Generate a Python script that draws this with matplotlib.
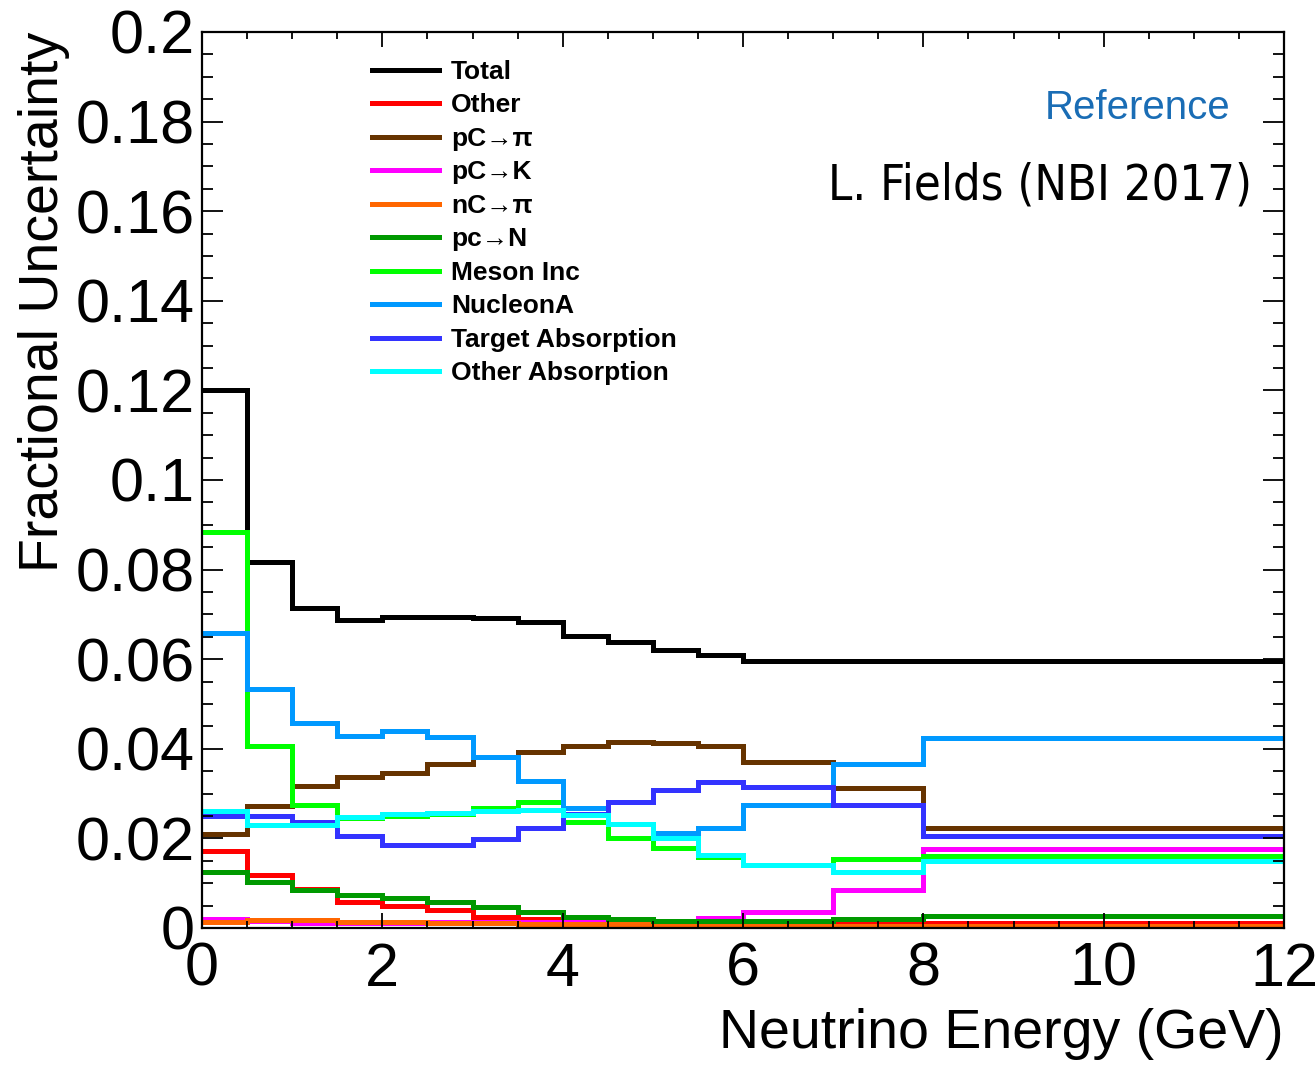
import matplotlib
matplotlib.use('Agg')
import matplotlib.pyplot as plt
from matplotlib.ticker import MultipleLocator, FuncFormatter
from matplotlib.lines import Line2D

plt.rcParams['font.family'] = ['Liberation Sans', 'DejaVu Sans']

# energy bin edges (GeV)
edges = [0, 0.5, 1, 1.5, 2, 2.5, 3, 3.5, 4, 4.5, 5, 5.5, 6, 7, 8, 12]

# fractional uncertainty per bin, one list per systematic
total = [0.1200, 0.0818, 0.0714, 0.0688, 0.0695, 0.0695, 0.0691, 0.0684,
         0.0652, 0.0639, 0.0621, 0.0609, 0.0597, 0.0597, 0.0597]
other = [0.0171, 0.0118, 0.0087, 0.0059, 0.0049, 0.0039, 0.0025, 0.0020,
         0.0014, 0.0012, 0.0011, 0.0010, 0.0009, 0.0012, 0.0011]
pc_pi = [0.0209, 0.0273, 0.0316, 0.0336, 0.0347, 0.0366, 0.0382, 0.0393,
         0.0407, 0.0414, 0.0412, 0.0406, 0.0371, 0.0312, 0.0222]
pc_k = [0.0020, 0.0016, 0.0011, 0.0011, 0.0012, 0.0013, 0.0014, 0.0014,
        0.0013, 0.0012, 0.0011, 0.0022, 0.0036, 0.0085, 0.0177]
nc_pi = [0.0014, 0.0018, 0.0018, 0.0014, 0.0014, 0.0010, 0.0010, 0.0008,
         0.0008, 0.0008, 0.0005, 0.0005, 0.0005, 0.0005, 0.0005]
pc_n = [0.0126, 0.0102, 0.0085, 0.0074, 0.0066, 0.0059, 0.0046, 0.0035,
        0.0025, 0.0019, 0.0016, 0.0016, 0.0016, 0.0021, 0.0027]
meson_inc = [0.0883, 0.0406, 0.0275, 0.0245, 0.0249, 0.0255, 0.0267, 0.0281,
             0.0236, 0.0200, 0.0178, 0.0159, 0.0141, 0.0153, 0.0161]
nucleon_a = [0.0658, 0.0533, 0.0458, 0.0429, 0.0440, 0.0427, 0.0382, 0.0327,
             0.0267, 0.0233, 0.0211, 0.0222, 0.0275, 0.0366, 0.0423]
target_abs = [0.0250, 0.0250, 0.0236, 0.0205, 0.0185, 0.0185, 0.0198, 0.0222,
              0.0254, 0.0282, 0.0308, 0.0326, 0.0315, 0.0275, 0.0205]
other_abs = [0.0260, 0.0230, 0.0230, 0.0248, 0.0254, 0.0256, 0.0262, 0.0263,
             0.0252, 0.0232, 0.0200, 0.0163, 0.0141, 0.0126, 0.0150]

labels = ['Total', 'Other', 'pC→π', 'pC→K', 'nC→π', 'pc→N',
          'Meson Inc', 'NucleonA', 'Target Absorption', 'Other Absorption']
series = [total, other, pc_pi, pc_k, nc_pi, pc_n,
          meson_inc, nucleon_a, target_abs, other_abs]
colors = ['#000000', '#ff0000', '#663300', '#ff00ff', '#ff6600', '#009900',
          '#00ff00', '#0099ff', '#3333ff', '#00ffff']

fig = plt.figure(figsize=(13.16, 10.66), dpi=100)
ax = fig.add_axes([0.1535, 0.1295, 0.8222, 0.8405])

for vals, c in zip(series, colors):
    ax.stairs(vals, edges, color=c, linewidth=3.6, baseline=None)

ax.set_xlim(0, 12)
ax.set_ylim(0, 0.2)

# ROOT style ticks: inside, on every side
ax.xaxis.set_major_locator(MultipleLocator(2))
ax.xaxis.set_minor_locator(MultipleLocator(0.5))
ax.yaxis.set_major_locator(MultipleLocator(0.02))
ax.yaxis.set_minor_locator(MultipleLocator(0.005))
ax.yaxis.set_major_formatter(FuncFormatter(lambda v, p: f'{v:g}'))
ax.tick_params(which='both', direction='in', top=True, right=True,
               labelsize=44, width=1.3)
ax.tick_params(axis='y', which='major', length=15, pad=5)
ax.tick_params(axis='y', which='minor', length=8)
ax.tick_params(axis='x', which='major', length=11, pad=10)
ax.tick_params(axis='x', which='minor', length=5)
for s in ax.spines.values():
    s.set_linewidth(1.6)

ax.set_xlabel('Neutrino Energy (GeV)', fontsize=40, loc='right')
ax.xaxis.set_label_coords(1.0, -0.089)
ax.set_ylabel('Fractional Uncertainty', fontsize=40, loc='top')
ax.yaxis.set_label_coords(-0.122, 1.0)

handles = [Line2D([], [], color=c, linewidth=3.6) for c in colors]
ax.legend(handles, labels, loc='upper left', bbox_to_anchor=(0.157, 0.969),
          frameon=False, borderpad=0, borderaxespad=0, handlelength=2.55,
          handletextpad=0.45, labelspacing=0.36,
          prop={'size': 19, 'weight': 'bold'})

fig.text(1138 / 1316, 1 - 108 / 1066, 'Reference', color='#1a6db5',
         fontsize=29, ha='center', va='center')
fig.text(1252 / 1316, 1 - 186 / 1066, 'L. Fields (NBI 2017)', color='black',
         fontsize=35, ha='right', va='center',
         family='DejaVu Sans', fontstretch='condensed')

fig.savefig('out.png', dpi=100)
